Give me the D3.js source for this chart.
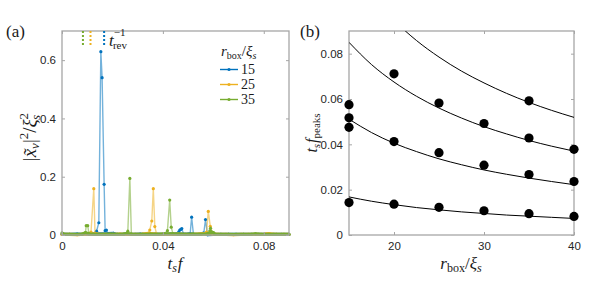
<!DOCTYPE html>
<html>
<head>
<meta charset="utf-8">
<script src="https://cdn.jsdelivr.net/npm/d3@7"></script>
<style>
  body { margin: 0; background: #fff; }
  svg { display: block; }
  .tick text { font-family: "Liberation Sans", Arial, sans-serif; font-size: 11.5px; fill: #262626; }
  .math { font-family: "Liberation Serif", "DejaVu Serif", serif; fill: #1a1a1a; }
</style>
</head>
<body>
<svg id="chart" width="598" height="293"></svg>
<script>
(function() {

    // Data, panel (a): spectra [f, |x_v|^2/xi^2]
    const blue15 = [
        [0, 0.003], [0.003, 0.002], [0.006, 0.003], [0.009, 0.002], [0.012, 0.004],
        [0.0137, 0.013], [0.0146, 0.042], [0.0154, 0.629], [0.0159, 0.540], [0.0167, 0.174],
        [0.0171, 0.015], [0.0176, 0.017], [0.0182, 0.005], [0.0204, 0.006], [0.022, 0.002],
        [0.025, 0.003], [0.028, 0.002], [0.031, 0.003], [0.034, 0.002], [0.037, 0.003],
        [0.040, 0.002], [0.043, 0.003], [0.0455, 0.004], [0.0463, 0.011], [0.0467, 0.017],
        [0.0471, 0.019], [0.0475, 0.022], [0.0482, 0.003], [0.050, 0.003], [0.0508, 0.004],
        [0.0514, 0.061], [0.0521, 0.003], [0.054, 0.002], [0.0562, 0.006], [0.0569, 0.053],
        [0.0577, 0.001], [0.060, 0.002], [0.063, 0.002], [0.066, 0.002], [0.069, 0.002],
        [0.072, 0.002], [0.075, 0.002], [0.078, 0.002], [0.081, 0.002], [0.084, 0.002],
        [0.087, 0.002], [0.090, 0.002]
    ];
    const orange25 = [
        [0, 0.002], [0.003, 0.002], [0.006, 0.001], [0.009, 0.003], [0.0115, 0.010],
        [0.0126, 0.159], [0.0131, 0.004], [0.0142, 0.003], [0.017, 0.002], [0.020, 0.002],
        [0.023, 0.003], [0.026, 0.002], [0.029, 0.002], [0.032, 0.003], [0.0335, 0.005],
        [0.0342, 0.006], [0.0348, 0.017], [0.0356, 0.048], [0.0362, 0.159], [0.0368, 0.029],
        [0.0375, 0.003], [0.040, 0.002], [0.043, 0.002], [0.046, 0.003], [0.049, 0.002],
        [0.052, 0.002], [0.055, 0.004], [0.0565, 0.005], [0.0573, 0.010], [0.0580, 0.081],
        [0.0588, 0.030], [0.0595, 0.004], [0.062, 0.002], [0.065, 0.002], [0.068, 0.001],
        [0.071, 0.002], [0.074, 0.002], [0.077, 0.002], [0.0805, 0.003], [0.0815, 0.004],
        [0.0823, 0.004], [0.085, 0.002], [0.088, 0.002], [0.090, 0.002]
    ];
    const green35 = [
        [0, 0.007], [0.0008, 0.002], [0.003, 0.002], [0.006, 0.002], [0.008, 0.003],
        [0.0093, 0.008], [0.0096, 0.032], [0.0102, 0.032], [0.0107, 0.004], [0.013, 0.002],
        [0.016, 0.002], [0.019, 0.003], [0.022, 0.002], [0.0245, 0.003], [0.0255, 0.005],
        [0.0261, 0.013], [0.0269, 0.194], [0.0275, 0.003], [0.029, 0.002], [0.032, 0.002],
        [0.035, 0.003], [0.038, 0.002], [0.0405, 0.004], [0.0418, 0.015], [0.0427, 0.120],
        [0.0433, 0.027], [0.0440, 0.004], [0.046, 0.003], [0.049, 0.002], [0.052, 0.003],
        [0.055, 0.002], [0.0575, 0.004], [0.0586, 0.014], [0.0589, 0.023], [0.0593, 0.012],
        [0.0600, 0.008], [0.0606, 0.003], [0.063, 0.002], [0.066, 0.002], [0.069, 0.002],
        [0.072, 0.002], [0.075, 0.002], [0.0767, 0.004], [0.079, 0.002], [0.082, 0.002],
        [0.085, 0.002], [0.088, 0.002], [0.090, 0.002]
    ];
    const seriesNames = ['15', '25', '35'];
    const revFreqs = [0.0167, 0.0113, 0.0083]; // t_rev^-1 for 15, 25, 35
    const xTicksA = [0, 0.04, 0.08];
    const yTicksA = [0, 0.2, 0.4, 0.6];

    // Data, panel (b): peak frequencies and fits
    const peakPoints = [
        [15, 0.0575], [15, 0.0517], [15, 0.0475], [15, 0.0143],
        [20, 0.0711], [20, 0.0412], [20, 0.0136],
        [25, 0.0582], [25, 0.0363], [25, 0.0122],
        [30, 0.0492], [30, 0.0308], [30, 0.0107],
        [35, 0.0592], [35, 0.0428], [35, 0.0267], [35, 0.0094],
        [40, 0.0378], [40, 0.0236], [40, 0.0082]
    ];
    const fitR = [15, 17.5, 20, 22.5, 25, 27.5, 30, 32.5, 35, 37.5, 40];
    const fit1 = [0.0168, 0.0149, 0.0134, 0.0121, 0.0111, 0.0102, 0.0095, 0.0088, 0.0083, 0.0078, 0.0073];
    const fit3 = [0.0511, 0.0452, 0.0405, 0.0368, 0.0336, 0.0310, 0.0287, 0.0268, 0.0251, 0.0236, 0.0222];
    const fit5 = [0.0850, 0.0752, 0.0675, 0.0612, 0.0560, 0.0516, 0.0478, 0.0446, 0.0417, 0.0392, 0.0370];
    const fit7 = [0.1192, 0.1055, 0.0947, 0.0858, 0.0785, 0.0723, 0.0671, 0.0625, 0.0585, 0.0550, 0.0519];
    const xTicksB = [20, 30, 40];
    const yTicksB = [0, 0.02, 0.04, 0.06, 0.08];

    const colors = ['#0072BD', '#EDB120', '#77AC30'];
    const axisColor = '#a6a6a6';

    const svg = d3.select('#chart');

    // Draws a MATLAB-like box with inward ticks on all four sides
    const drawBox = (g, x, y, xTicks, yTicks, xFmt, yFmt) => {
        const [x0, x1] = x.range();
        const [y0, y1] = y.range();
        const tl = 3;

        g.append('g')
            .attr('transform', `translate(0,${y0})`)
            .call(d3.axisBottom(x).tickValues(xTicks).tickFormat(xFmt).tickSize(-tl).tickPadding(7))
            .call(a => a.select('.domain').remove());
        g.append('g')
            .attr('transform', `translate(0,${y1})`)
            .call(d3.axisTop(x).tickValues(xTicks).tickFormat('').tickSize(-tl))
            .call(a => a.select('.domain').remove());
        g.append('g')
            .attr('transform', `translate(${x0},0)`)
            .call(d3.axisLeft(y).tickValues(yTicks).tickFormat(yFmt).tickSize(-tl).tickPadding(6))
            .call(a => a.select('.domain').remove());
        g.append('g')
            .attr('transform', `translate(${x1},0)`)
            .call(d3.axisRight(y).tickValues(yTicks).tickFormat('').tickSize(-tl))
            .call(a => a.select('.domain').remove());

        g.selectAll('.tick line').attr('stroke', axisColor);

        g.append('rect')
            .attr('x', x0).attr('y', y1)
            .attr('width', x1 - x0).attr('height', y0 - y1)
            .attr('fill', 'none')
            .attr('stroke', axisColor)
            .attr('stroke-width', 1.3);
    };

    // ---------- Panel (a) ----------
    const xA = d3.scaleLinear().domain([0, 0.09]).range([62, 289]);
    const yA = d3.scaleLinear().domain([0, 0.7]).range([235, 31]);

    const gA = svg.append('g');

    const line = d3.line().x(d => xA(d[0])).y(d => yA(d[1]));
    [blue15, orange25, green35].forEach((s, i) => {
        gA.append('path')
            .datum(s)
            .attr('d', line)
            .attr('fill', 'none')
            .attr('stroke', colors[i])
            .attr('stroke-opacity', 0.55)
            .attr('stroke-width', 1.4);
        gA.append('path')
            .datum(s.filter(d => d[1] < 0.01))
            .attr('d', line)
            .attr('fill', 'none')
            .attr('stroke', colors[i])
            .attr('stroke-width', 3.2);
        gA.selectAll(null)
            .data(s)
            .enter()
            .append('circle')
            .attr('cx', d => xA(d[0]))
            .attr('cy', d => yA(d[1]))
            .attr('r', 1.6)
            .attr('fill', colors[i]);
    });

    drawBox(gA, xA, yA, xTicksA, yTicksA, d => d === 0 ? '0' : d3.format('.2~f')(d), d => d === 0 ? '0' : d3.format('.1f')(d));

    // revival markers
    [2, 1, 0].forEach(i => {
        gA.append('line')
            .attr('x1', xA(revFreqs[i])).attr('x2', xA(revFreqs[i]))
            .attr('y1', 31).attr('y2', 45)
            .attr('stroke', colors[i])
            .attr('stroke-width', 2)
            .attr('stroke-dasharray', '2,2');
    });
    const rev = gA.append('text').attr('class', 'math').attr('x', 109).attr('y', 46).attr('font-size', 17);
    rev.append('tspan').attr('font-style', 'italic').text('t');
    rev.append('tspan').attr('font-size', 11).attr('dy', -10).text('−1');
    rev.append('tspan').attr('font-size', 11).attr('dx', -12.5).attr('dy', 13).text('rev');

    // legend
    const lt = gA.append('text').attr('class', 'math').attr('x', 221).attr('y', 56).attr('font-size', 15);
    lt.append('tspan').attr('font-style', 'italic').text('r');
    lt.append('tspan').attr('font-size', 10).attr('dy', 3).text('box');
    lt.append('tspan').attr('dy', -3).text('/');
    lt.append('tspan').attr('font-style', 'italic').text('ξ');
    lt.append('tspan').attr('font-size', 10).attr('font-style', 'italic').attr('dy', 3).text('s');

    seriesNames.forEach((name, i) => {
        const ly = 69.5 + i * 15;
        gA.append('line')
            .attr('x1', 220).attr('x2', 238).attr('y1', ly).attr('y2', ly)
            .attr('stroke', colors[i]).attr('stroke-width', 1.4);
        gA.append('circle')
            .attr('cx', 229).attr('cy', ly).attr('r', 1.6).attr('fill', colors[i]);
        gA.append('text')
            .attr('class', 'math')
            .attr('x', 241).attr('y', ly + 4.5)
            .attr('font-size', 14)
            .text(name);
    });

    // axis labels
    const xlA = gA.append('text').attr('class', 'math').attr('x', 175).attr('y', 269).attr('text-anchor', 'middle').attr('font-size', 17);
    xlA.append('tspan').attr('font-style', 'italic').text('t');
    xlA.append('tspan').attr('font-style', 'italic').attr('font-size', 12).attr('dy', 3).text('s');
    xlA.append('tspan').attr('font-style', 'italic').attr('dy', -3).attr('dx', 1).text('f');

    const ylA = gA.append('text').attr('class', 'math')
        .attr('transform', 'translate(36,137) rotate(-90)')
        .attr('text-anchor', 'middle').attr('font-size', 19);
    ylA.append('tspan').text('|');
    ylA.append('tspan').attr('font-style', 'italic').text('x̃');
    ylA.append('tspan').attr('font-style', 'italic').attr('font-size', 13).attr('dy', 3).text('v');
    ylA.append('tspan').attr('dy', -3).text('|');
    ylA.append('tspan').attr('font-size', 13).attr('dy', -8).text('2');
    ylA.append('tspan').attr('dy', 8).text('/');
    ylA.append('tspan').attr('font-style', 'italic').text('ξ');
    ylA.append('tspan').attr('font-size', 13).attr('dy', -8).text('2');
    ylA.append('tspan').attr('font-style', 'italic').attr('font-size', 13).attr('dx', -7).attr('dy', 12).text('s');

    svg.append('text').attr('class', 'math').attr('x', 6).attr('y', 37).attr('font-size', 17).text('(a)');

    // ---------- Panel (b) ----------
    const xB = d3.scaleLinear().domain([15, 40]).range([349, 574]);
    const yB = d3.scaleLinear().domain([0, 0.09]).range([235, 31]);

    const gB = svg.append('g');

    svg.append('clipPath').attr('id', 'clipB')
        .append('rect').attr('x', 349).attr('y', 31).attr('width', 225).attr('height', 204);

    drawBox(gB, xB, yB, xTicksB, yTicksB, d3.format('d'), d => d === 0 ? '0' : d3.format('.2f')(d));

    const fitLine = d3.line().curve(d3.curveMonotoneX).x((d, i) => xB(fitR[i])).y(d => yB(d));
    [fit1, fit3, fit5, fit7].forEach(f => {
        gB.append('path')
            .datum(f)
            .attr('d', fitLine)
            .attr('clip-path', 'url(#clipB)')
            .attr('fill', 'none')
            .attr('stroke', '#000')
            .attr('stroke-width', 1);
    });

    gB.selectAll('.peak')
        .data(peakPoints)
        .enter()
        .append('circle')
        .attr('class', 'peak')
        .attr('cx', d => xB(d[0]))
        .attr('cy', d => yB(d[1]))
        .attr('r', 4.6)
        .attr('fill', '#000');

    const xlB = gB.append('text').attr('class', 'math').attr('x', 461).attr('y', 269).attr('text-anchor', 'middle').attr('font-size', 17);
    xlB.append('tspan').attr('font-style', 'italic').text('r');
    xlB.append('tspan').attr('font-size', 12).attr('dy', 3).text('box');
    xlB.append('tspan').attr('dy', -3).text('/');
    xlB.append('tspan').attr('font-style', 'italic').text('ξ');
    xlB.append('tspan').attr('font-style', 'italic').attr('font-size', 12).attr('dy', 3).text('s');

    const ylB = gB.append('text').attr('class', 'math')
        .attr('transform', 'translate(317,133) rotate(-90)')
        .attr('text-anchor', 'middle').attr('font-size', 16);
    ylB.append('tspan').attr('font-style', 'italic').text('t');
    ylB.append('tspan').attr('font-style', 'italic').attr('font-size', 11).attr('dy', 3).text('s');
    ylB.append('tspan').attr('font-style', 'italic').attr('dy', -3).attr('dx', 1).text('f');
    ylB.append('tspan').attr('font-size', 11).attr('dy', 3).text('peaks');

    svg.append('text').attr('class', 'math').attr('x', 300).attr('y', 37).attr('font-size', 17).text('(b)');

})();
</script>
</body>
</html>
